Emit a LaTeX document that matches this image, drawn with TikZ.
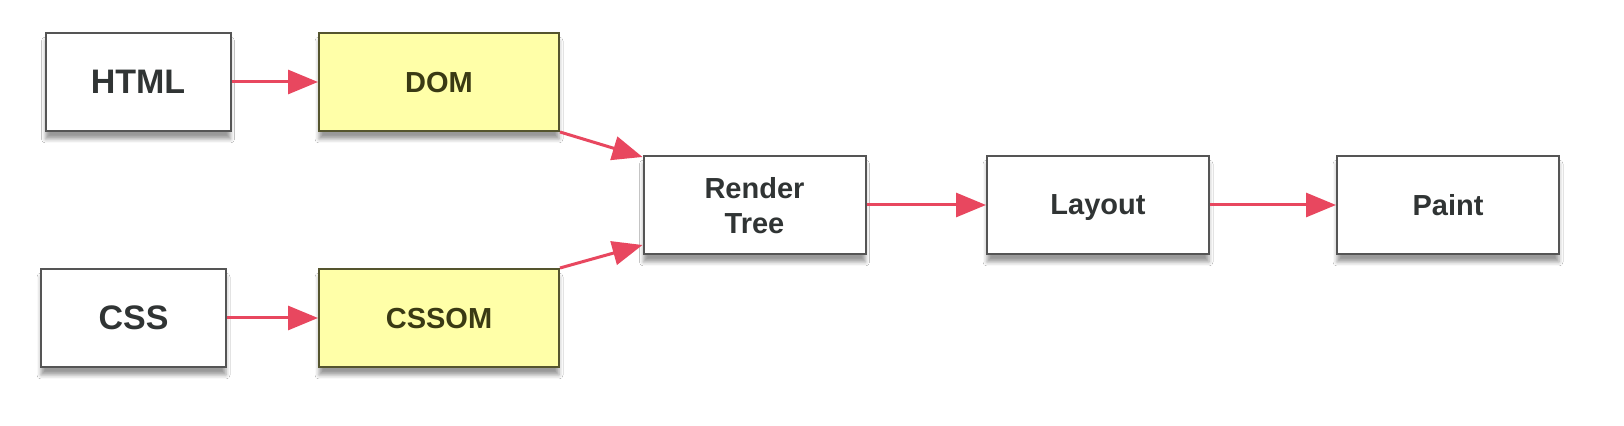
\documentclass[tikz,border=0pt]{standalone}
\usepackage{fontspec}
\setmainfont{Liberation Sans}
\usetikzlibrary{arrows.meta,shadows.blur}

\definecolor{boxline}{HTML}{555555}
\definecolor{omline}{HTML}{55552E}
\definecolor{omfill}{HTML}{FFFFA8}
\definecolor{omtext}{HTML}{3A3A14}
\definecolor{txt}{HTML}{303434}
\definecolor{arrowred}{HTML}{E8475F}

\begin{document}
\begin{tikzpicture}[x=0.5pt,y=-0.5pt,
    box/.style={draw=boxline, line width=1pt, fill=white, text=txt,
        minimum height=49pt, inner sep=0pt, text depth=0pt, align=center,
        font=\bfseries\fontsize{14.5}{17.5}\selectfont,
        blur shadow={shadow xshift=0pt, shadow yshift=-4pt,
            shadow blur radius=2pt, shadow opacity=40}},
    src/.style={box, minimum width=92.5pt,
        font=\bfseries\fontsize{17}{20}\selectfont},
    om/.style={box, minimum width=120pt, draw=omline, fill=omfill, text=omtext},
    stage/.style={box, minimum width=111pt},
    arr/.style={draw=arrowred, line width=1.5pt,
        -{Triangle[length=15pt,width=12pt]}}]
    % \draw[help lines,step=50] (0,0) grid (1624,426);
    \fill[white] (0,0) rectangle (1624,426);
    \useasboundingbox (0,0) rectangle (1624,426);

    \node[src] (html) at (138,82) {HTML};
    \node[om] (dom) at (439,82) {DOM};
    \node[src] (css) at (133.5,318) {CSS};
    \node[om] (cssom) at (439,318) {CSSOM};

    \node[stage] (render) at (754.5,205) {Render\\Tree};
    \node[stage] (layout) at (1098,205) {Layout};
    \node[stage] (paint) at (1448,205) {Paint};

    \draw[arr] (html) -- (dom);
    \draw[arr] (css) -- (cssom);
    \draw[arr] (dom.south east) -- ([yshift=-1pt]render.north west);
    \draw[arr] (cssom.north east) -- ([yshift=5pt]render.south west);
    \draw[arr] (render) -- (layout);
    \draw[arr] (layout) -- (paint);

\end{tikzpicture}
\end{document}
